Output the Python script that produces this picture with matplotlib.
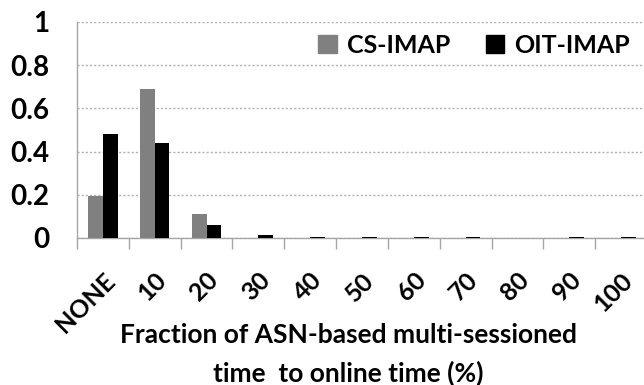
import numpy as np
import matplotlib
matplotlib.use('Agg')
import matplotlib.pyplot as plt
from matplotlib.patches import Patch

categories = ['NONE', '10', '20', '30', '40', '50', '60', '70', '80', '90', '100']
cs_imap = [0.195, 0.69, 0.11, 0.0, 0.0, 0.0, 0.0, 0.0, 0.0, 0.0, 0.0]
oit_imap = [0.48, 0.44, 0.058, 0.014, 0.005, 0.003, 0.003, 0.003, 0.0, 0.003, 0.003]
y_ticks = [0, 0.2, 0.4, 0.6, 0.8, 1]
y_labels = ['0', '0.2', '0.4', '0.6', '0.8', '1']

plt.rcParams['font.family'] = ['Lato', 'DejaVu Sans']

fig = plt.figure(figsize=(6.44, 3.85), dpi=100)
ax = fig.add_axes([77 / 644, 147 / 385, 570 / 644, 216 / 385])

x = np.arange(len(categories))
w = 0.285
ax.bar(x - w / 2, cs_imap, w, color='#808080', label='CS-IMAP', zorder=3)
ax.bar(x + w / 2, oit_imap, w, color='#000000', label='OIT-IMAP', zorder=3)

ax.set_xlim(-0.5, len(categories) - 0.5)
ax.set_ylim(0, 1)

# y axis: labels only, dotted grid
ax.set_yticks(y_ticks)
ax.set_yticklabels(y_labels, fontsize=20, fontweight='bold')
ax.tick_params(axis='y', length=0, pad=20)
ax.yaxis.grid(True, linestyle=(0, (1.5, 1.5)), color='#b0b0b0', linewidth=1.0, zorder=0)

# x axis: category labels at centres, tick marks between categories
ax.set_xticks(x)
ax.set_xticklabels(categories, rotation=45, ha='right', rotation_mode='anchor',
                   fontsize=18, fontweight='bold')
ax.tick_params(axis='x', which='major', length=0, pad=22)
ax.set_xticks(np.arange(len(categories) + 1) - 0.5, minor=True)
ax.tick_params(axis='x', which='minor', length=8, width=1, color='#a6a6a6')

for side in ['top', 'right']:
    ax.spines[side].set_visible(False)
for side in ['left', 'bottom']:
    ax.spines[side].set_color('#a6a6a6')
    ax.spines[side].set_linewidth(1)

fig.text(348 / 644, 1 - 323 / 385,
         'Fraction of ASN-based multi-sessioned\ntime  to online time (%)',
         ha='center', va='top', fontsize=19, fontweight='bold', linespacing=1.65)

handles = [Patch(facecolor='#808080', edgecolor='#808080'),
           Patch(facecolor='#000000', edgecolor='#000000')]
ax.legend(handles, ['CS-IMAP', 'OIT-IMAP'], loc='upper right',
          bbox_to_anchor=(630 / 644, 1 - 34 / 385), bbox_transform=fig.transFigure,
          ncol=2, frameon=False, borderpad=0, borderaxespad=0,
          prop={'size': 18, 'weight': 'bold'}, handlelength=0.75,
          handleheight=0.75, handletextpad=0.4, columnspacing=1.4)

fig.savefig('out.png', dpi=100)
